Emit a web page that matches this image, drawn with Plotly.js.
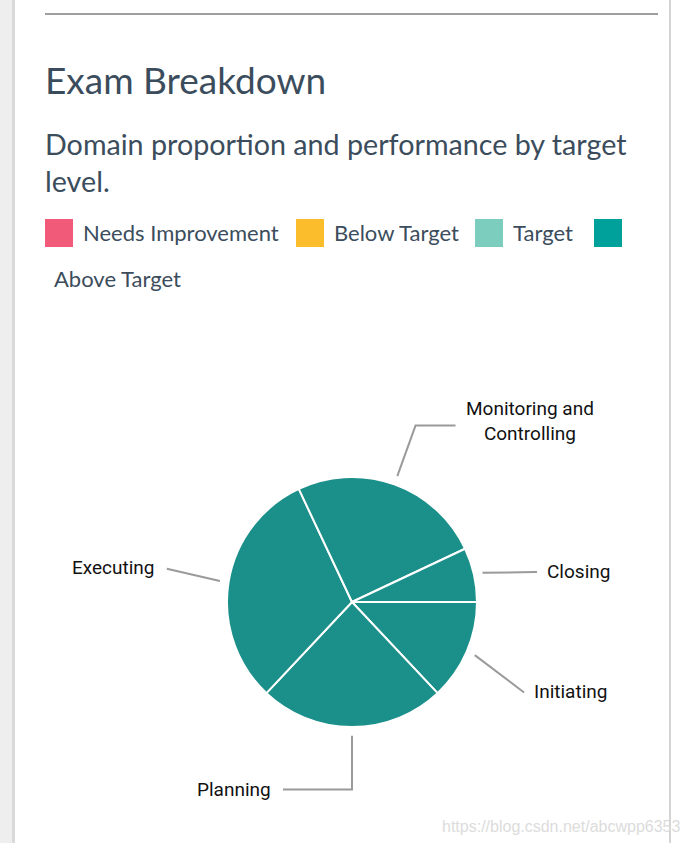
<!DOCTYPE html>
<html>
<head>
<meta charset="utf-8">
<script src="https://cdn.plot.ly/plotly-3.0.1.min.js"></script>
<style>
  html, body { margin: 0; padding: 0; background: #ffffff; }
  #chart { width: 681px; height: 843px; }
</style>
</head>
<body>
<div id="chart"></div>
<script>
// ---- data ----
const domains = ['Initiating', 'Planning', 'Executing', 'Monitoring and<br>Controlling', 'Closing'];
const shares = [13, 24, 31, 25, 7];
const levels = ['Needs Improvement', 'Below Target', 'Target', 'Above Target'];
const levelColors = ['#f15a78', '#fbbd2b', '#7dcdbf', '#00a19b'];
const sliceColor = '#1b8f8a';
const titleText = 'Exam Breakdown';
const subtitleLines = ['Domain proportion and performance by target', 'level.'];
const watermark = 'https://blog.csdn.net/abcwpp6353';

// ---- layout constants (pixels) ----
const W = 681, H = 843;
const cx = 352, cy = 602, R = 125;
const leaderStart = 1.07, leaderElbow = 1.5;
const elbowNudgeY = [16, 0, -4, 0, 11];
const tailLen = [0, -69, 0, 40, 2];
const labelLift = [1, 0, 1, 5, 1];
const legendSquareX = [45, 296, 475, 594];
const legendTextX = [81, 332, 511, 52];
const legendTextY = [232, 232, 232, 278];
const legendSquareY = 233, sq = 28;

const xp = px => px / W;
const yp = py => 1 - py / H;

const textColor = '#3b4d5c';
const shapes = [];
const annotations = [];

// page frame
shapes.push({type: 'rect', xref: 'paper', yref: 'paper', x0: xp(0), x1: xp(12), y0: 0, y1: 1, fillcolor: '#eeeeee', line: {width: 0}, layer: 'below'});
shapes.push({type: 'rect', xref: 'paper', yref: 'paper', x0: xp(12), x1: xp(15), y0: 0, y1: 1, fillcolor: '#d9d9d9', line: {width: 0}, layer: 'below'});
shapes.push({type: 'rect', xref: 'paper', yref: 'paper', x0: xp(669), x1: xp(671), y0: 0, y1: 1, fillcolor: '#d4d4d4', line: {width: 0}, layer: 'below'});
shapes.push({type: 'line', xref: 'paper', yref: 'paper', x0: xp(45), x1: xp(658), y0: yp(14), y1: yp(14), line: {color: '#9e9e9e', width: 2}});

// title & subtitle
annotations.push({xref: 'paper', yref: 'paper', x: xp(43), y: yp(79), xanchor: 'left', yanchor: 'middle', showarrow: false,
  text: titleText, font: {family: 'Lato', size: 37, color: textColor}});
subtitleLines.forEach((t, i) => {
  annotations.push({xref: 'paper', yref: 'paper', x: xp(43), y: yp(144 + i * 37), xanchor: 'left', yanchor: 'middle', showarrow: false,
    text: t, font: {family: 'Lato', size: 28.7, color: textColor}});
});

// legend
levels.forEach((name, i) => {
  shapes.push({type: 'rect', xref: 'paper', yref: 'paper',
    x0: xp(legendSquareX[i]), x1: xp(legendSquareX[i] + sq),
    y0: yp(legendSquareY + sq / 2), y1: yp(legendSquareY - sq / 2),
    fillcolor: levelColors[i], line: {width: 0}});
  annotations.push({xref: 'paper', yref: 'paper', x: xp(legendTextX[i]), y: yp(legendTextY[i]), xanchor: 'left', yanchor: 'middle', showarrow: false,
    text: name, font: {family: 'Lato', size: 22, color: textColor}});
});

// pie leader lines and labels, computed from the data
const total = shares.reduce((a, b) => a + b, 0);
let cum = 0;
shares.forEach((v, i) => {
  const frac = (cum + v / 2) / total;
  cum += v;
  const th = frac * 2 * Math.PI; // clockwise from 3 o'clock in screen coords
  const c = Math.cos(th), s = Math.sin(th);
  const x1 = cx + leaderStart * R * c, y1 = cy + leaderStart * R * s;
  const x2 = cx + leaderElbow * R * c, y2 = cy + leaderElbow * R * s + elbowNudgeY[i];
  const x3 = x2 + tailLen[i], y3 = y2;
  shapes.push({type: 'path', xref: 'paper', yref: 'paper',
    path: `M ${xp(x1)} ${yp(y1)} L ${xp(x2)} ${yp(y2)} L ${xp(x3)} ${yp(y3)}`,
    line: {color: '#9a9a9a', width: 2}});
  const right = Math.abs(c) < 0.01 ? tailLen[i] > 0 : c > 0;
  annotations.push({xref: 'paper', yref: 'paper', x: xp(x3 + (right ? 8 : -10)), y: yp(y3 - labelLift[i]),
    xanchor: right ? 'left' : 'right', yanchor: 'middle', align: 'center', showarrow: false,
    text: domains[i], font: {family: 'Roboto', size: 19, color: '#111111'}});
});

// watermark
annotations.push({xref: 'paper', yref: 'paper', x: xp(440), y: yp(826), xanchor: 'left', yanchor: 'middle', showarrow: false,
  text: watermark, font: {family: 'Liberation Sans, Arial', size: 16, color: '#dcdcdc'}});

const trace = {
  type: 'pie',
  labels: domains,
  values: shares,
  sort: false,
  direction: 'clockwise',
  rotation: 90,
  textinfo: 'none',
  hoverinfo: 'none',
  showlegend: false,
  marker: {colors: domains.map(() => sliceColor), line: {color: '#ffffff', width: 2}},
  domain: {x: [xp(cx - R), xp(cx + R)], y: [yp(cy + R), yp(cy - R)]}
};

const layout = {
  width: W, height: H,
  margin: {l: 0, r: 0, t: 0, b: 0},
  paper_bgcolor: '#ffffff',
  showlegend: false,
  shapes: shapes,
  annotations: annotations
};

Plotly.newPlot('chart', [trace], layout, {displayModeBar: false, staticPlot: true});
</script>
</body>
</html>
